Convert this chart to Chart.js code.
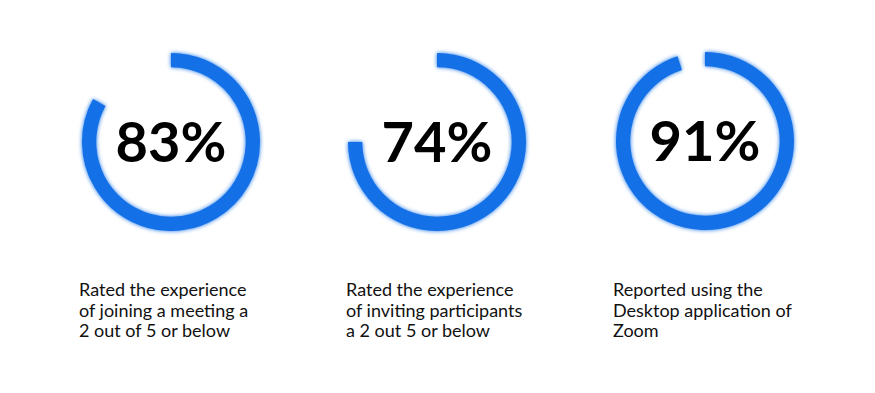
<!DOCTYPE html>
<html>
<head>
<meta charset="utf-8">
<script src="https://cdn.jsdelivr.net/npm/chart.js@4"></script>
<style>
  html,body{margin:0;padding:0;background:#fff;}
  body{width:875px;height:393px;position:relative;overflow:hidden;font-family:Lato,"Open Sans",sans-serif;}
  .ring{position:absolute;width:194px;height:194px;}
  .cap{position:absolute;top:279px;font-family:Lato,sans-serif;font-size:18px;line-height:20.5px;color:#111;white-space:nowrap;}
</style>
</head>
<body>
<div class="ring" style="left:73.5px;top:44.5px"><canvas id="c0" width="194" height="194"></canvas></div>
<div class="ring" style="left:339.5px;top:44.5px"><canvas id="c1" width="194" height="194"></canvas></div>
<div class="ring" style="left:607.5px;top:44px"><canvas id="c2" width="194" height="194"></canvas></div>
<div class="cap" id="t0" style="left:79px"></div>
<div class="cap" id="t1" style="left:346px"></div>
<div class="cap" id="t2" style="left:613px"></div>
<script>
const percentLabels = ['83%', '74%', '91%'];
const arcValues = [83, 75, 95];
const captions = [
  ['Rated the experience', 'of joining a meeting a', '2 out of 5 or below'],
  ['Rated the experience', 'of inviting participants', 'a 2 out 5 or below'],
  ['Reported using the', 'Desktop application of', 'Zoom']
];
const blue = '#1470E6';

captions.forEach((lines, i) => {
  document.getElementById('t' + i).innerHTML = lines.join('<br>');
});

const centerText = {
  id: 'centerText',
  beforeDatasetsDraw(chart) {
    const ctx = chart.ctx;
    ctx.save();
    ctx.shadowColor = 'rgba(20,112,230,1)';
    ctx.shadowBlur = 4;
  },
  afterDatasetsDraw(chart, args, opts) {
    const ctx = chart.ctx;
    ctx.restore();
    const meta = chart.getDatasetMeta(0);
    const arc = meta.data[0];
    ctx.save();
    ctx.fillStyle = '#000';
    ctx.font = 'bold 56px Lato';
    ctx.textAlign = 'center';
    ctx.textBaseline = 'middle';
    ctx.fillText(opts.text, arc.x, arc.y + 2);
    ctx.restore();
  }
};

arcValues.forEach((v, i) => {
  new Chart(document.getElementById('c' + i), {
    type: 'doughnut',
    data: {
      labels: ['value', 'rest'],
      datasets: [{
        data: [v, 100 - v],
        backgroundColor: [blue, 'rgba(255,255,255,0)'],
        borderWidth: 0
      }]
    },
    options: {
      responsive: false,
      animation: false,
      cutout: '84%',
      rotation: 0,
      layout: { padding: 8 },
      plugins: {
        legend: { display: false },
        tooltip: { enabled: false },
        centerText: { text: percentLabels[i] }
      }
    },
    plugins: [centerText]
  });
});
</script>
</body>
</html>
